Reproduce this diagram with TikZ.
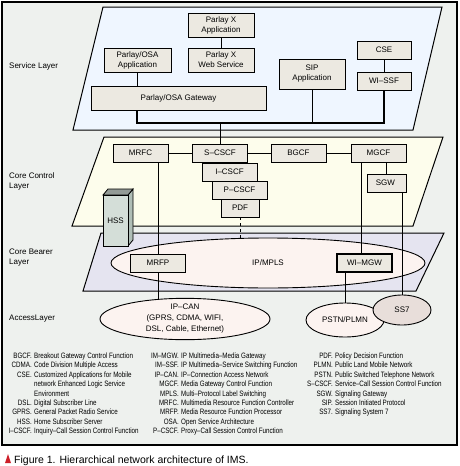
\documentclass[tikz,border=0pt]{standalone}
\usepackage{fontspec}
\setmainfont{Liberation Sans}
\newfontfamily\legendfont{Liberation Sans}[FakeStretch=0.8]
\usetikzlibrary{shapes, calc, positioning}

\definecolor{framebg}{RGB}{238,241,238}
\definecolor{servicebg}{RGB}{239,246,255}
\definecolor{controlbg}{RGB}{253,253,236}
\definecolor{bearerbg}{RGB}{229,228,240}
\definecolor{boxbg}{RGB}{236,233,225}
\definecolor{cloudbg}{RGB}{252,243,240}
\definecolor{ssbg}{RGB}{232,222,218}
\definecolor{hssfront}{RGB}{212,222,216}
\definecolor{hssside}{RGB}{176,190,183}
\definecolor{capred}{RGB}{205,30,40}

\begin{document}
\begin{tikzpicture}[x=1pt, y=-1pt, font=\fontsize{8}{10}\selectfont,
  fn/.style={draw, line width=0.9pt, fill=boxbg, inner sep=0pt, align=center},
  cloud/.style={draw, line width=0.9pt, ellipse, fill=cloudbg, inner sep=0pt, align=center},
  layer/.style={draw, line width=1pt},
  bus/.style={line width=1.4pt},
  legend/.style={inner sep=0pt, font=\legendfont\fontsize{7.8}{9}\selectfont}]

  \useasboundingbox (0,0) rectangle (459,466);
  \draw[line width=1.2pt, fill=framebg] (2,2) rectangle (457,445);

  \draw[layer, fill=servicebg] (103,7) -- (442,7) -- (413,130) -- (73,130) -- cycle;
  \draw[layer, fill=controlbg] (104,137) -- (443,137) -- (413,226) -- (72,226) -- cycle;
  \draw[layer, fill=bearerbg] (101,233) -- (444,233) -- (416,291) -- (83,291) -- cycle;

  \foreach \Y/\T in {66/{Service Layer},
                     181/{Core Control\\Layer},
                     258/{Core Bearer\\Layer},
                     319/{AccessLayer}
  } {
  \node[anchor=west, align=left, inner sep=0pt] at (9,\Y) {\T};
  }

  \foreach \N/\X/\Y/\W/\H/\T in {pxapp/221/25/66/24/{Parlay X\\Application},
                                 pxweb/221/60/66/24/{Parlay X\\Web Service},
                                 osaapp/137.5/60/67/24/{Parlay/OSA\\Application},
                                 osagw/178.5/98/175/24/{Parlay/OSA Gateway},
                                 sipapp/312/74/66/30/{SIP\\Application},
                                 cse/384/50/54/18/{CSE},
                                 wissf/384/81/54/18/{WI–SSF},
                                 mrfc/140.5/153/55/18/{MRFC},
                                 scscf/220/153/55/18/{S–CSCF},
                                 bgcf/298.5/153/55/18/{BGCF},
                                 mgcf/378.5/153/55/18/{MGCF},
                                 icscf/229.5/172/55/18/{I–CSCF},
                                 pcscf/239.5/190/55/18/{P–CSCF},
                                 pdf/240/208/38/18/{PDF},
                                 sgw/386.5/183/39/18/{SGW}
  } {
  \node[fn, minimum width=\W, minimum height=\H](\N) at (\X,\Y) {\T};
  }

  \filldraw[fill=hssside, line width=0.8pt] (128,195) -- (133,189) -- (133,240) -- (128,246) -- cycle;
  \filldraw[fill=hssfront!70!black, line width=0.8pt] (103,195) -- (108,189) -- (133,189) -- (128,195) -- cycle;
  \node[draw, line width=0.8pt, fill=hssfront, minimum width=25, minimum height=51, inner sep=0pt](hss) at (115.5,220.5) {HSS};

  \node[cloud, minimum width=314, minimum height=50](ipmpls) at (268,263) {IP/MPLS};
  \node[fn, minimum width=55, minimum height=18](mrfp) at (158,263) {MRFP};
  \node[fn, line width=1.4pt, minimum width=55, minimum height=18](wimgw) at (364.5,263) {WI–MGW};

  \coordinate (ipcanC) at (185,319);
  \coordinate (pstnC) at (345,320);
  \coordinate (ssC) at (402,310);
  \coordinate (busL) at (137,123);

  \draw (pxapp) -- (pxweb);
  \draw (cse) -- (wissf);
  \draw (osaapp.south) -- (osaapp.south |- osagw.north);
  \draw[bus] (osagw.south -| busL) -- (busL) -- (busL -| wissf.south) -- (wissf.south);
  \draw (sipapp.south) -- (sipapp.south |- busL);
  \draw (scscf.north) -- (scscf.north |- busL);
  \draw (mrfc) -- (scscf);
  \draw (scscf) -- (bgcf);
  \draw (bgcf) -- (mgcf);
  \draw (sgw.north |- mgcf.south) -- (sgw.north);
  \draw (mrfc.south -| mrfp.north) -- (mrfp.north);
  \draw ([xshift=-17.5pt]mgcf.south) -- ([xshift=-17.5pt]mgcf.south |- wimgw.north);
  \draw[dashed] (pdf.south) -- (pdf.south |- ipmpls.north);
  \draw (mrfp.south) -- (mrfp.south |- ipcanC);
  \draw (pstnC |- wimgw.south) -- (pstnC);
  \draw (ssC |- sgw.south) -- (ssC);

  \node[cloud, minimum width=170, minimum height=37, font=\fontsize{8}{11}\selectfont](ipcan) at (ipcanC) {IP–CAN\\(GPRS, CDMA, WIFI,\\DSL, Cable, Ethernet)};
  \node[cloud, minimum width=78, minimum height=34](pstn) at (pstnC) {PSTN/PLMN};
  \node[cloud, fill=ssbg, minimum width=58, minimum height=30](ss7) at (ssC) {SS7};

  \foreach \A/\D [count=\i from 0] in {BGCF./Breakout Gateway Control Function,
                                       CDMA./Code Division Multiple Access,
                                       CSE./Customized Applications for Mobile,
                                       /network Enhanced Logic Service,
                                       /Environment,
                                       DSL./Digital Subscriber Line,
                                       GPRS./General Packet Radio Service,
                                       HSS./Home Subscriber Server,
                                       I–CSCF./Inquiry–Call Session Control Function
  } {
  \node[legend, anchor=base east] at (32,358.5+9.4*\i) {\A};
  \node[legend, anchor=base west] at (34,358.5+9.4*\i) {\D};
  }
  \foreach \A/\D [count=\i from 0] in {IM–MGW./IP Multimedia–Media Gateway,
                                       IM–SSF./IP Multimedia–Service Switching Function,
                                       IP–CAN./IP–Connection Access Network,
                                       MGCF./Media Gateway Control Function,
                                       MPLS./Multi–Protocol Label Switching,
                                       MRFC./Multimedia Resource Function Controller,
                                       MRFP./Media Resource Function Processor,
                                       OSA./Open Service Architecture,
                                       P–CSCF./Proxy–Call Session Control Function
  } {
  \node[legend, anchor=base east] at (179,358.5+9.4*\i) {\A};
  \node[legend, anchor=base west] at (181,358.5+9.4*\i) {\D};
  }
  \foreach \A/\D [count=\i from 0] in {PDF./Policy Decision Function,
                                       PLMN./Public Land Mobile Network,
                                       PSTN./Public Switched Telephone Network,
                                       S–CSCF./Service–Call Session Control Function,
                                       SGW./Signaling Gateway,
                                       SIP./Session Initiated Protocol,
                                       SS7./Signaling System 7
  } {
  \node[legend, anchor=base east] at (333,358.5+9.4*\i) {\A};
  \node[legend, anchor=base west] at (335,358.5+9.4*\i) {\D};
  }

  \fill[capred] (5,463) -- (11,463) -- (8,454) -- cycle;
  \node[anchor=base west, inner sep=0pt, font=\fontsize{10.5}{12}\selectfont](caption) at (14,463) {Figure 1. Hierarchical network architecture of IMS.};
\end{tikzpicture}
\end{document}
